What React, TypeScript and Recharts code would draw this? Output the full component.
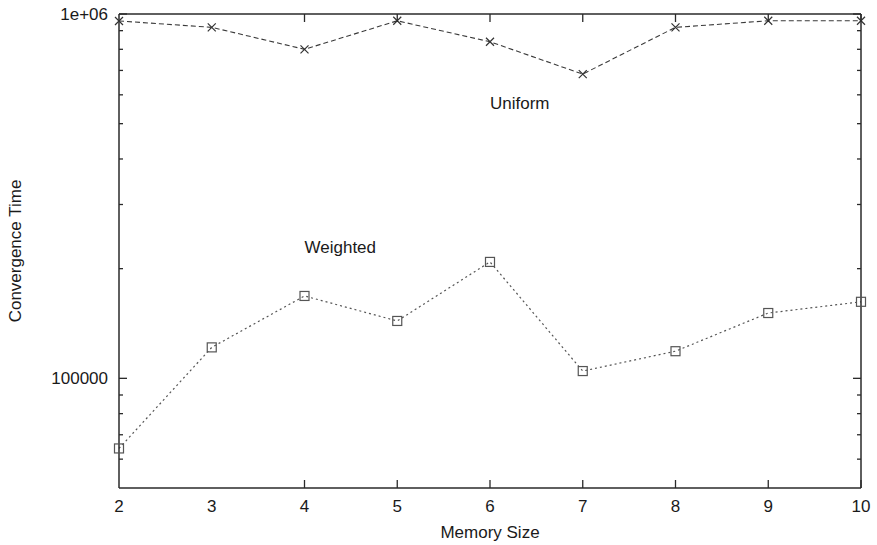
import { Line, LineChart, ReferenceDot, XAxis, YAxis } from 'recharts';

// memory size on x, convergence time (log scale) on y
const memorySizes = [2, 3, 4, 5, 6, 7, 8, 9, 10];
const uniformTimes = [957000, 919000, 800000, 958000, 839000, 684000, 919000, 958000, 958000];
const weightedTimes = [64200, 121600, 168300, 143700, 208700, 104700, 118700, 151100, 162200];

const xTicks = [2, 3, 4, 5, 6, 7, 8, 9, 10];
const yMajorTicks = [100000, 1000000];
const yMinorTicks = [60000, 70000, 80000, 90000, 200000, 300000, 400000, 500000, 600000, 700000, 800000, 900000];

const curveLabels = [
  { text: 'Uniform', m: 6, t: 570000 },
  { text: 'Weighted', m: 4, t: 230000 },
];

const data = memorySizes.map((m, i) => ({ m, uniform: uniformTimes[i], weighted: weightedTimes[i] }));

const FONT = "'Liberation Sans', Arial, Helvetica, sans-serif";
const INK = '#1a1a1a';
const AXIS = '#2a2a2a';
const Y_DOMAIN: [number, number] = [50000, 1000000];

// gnuplot-style exponent labels: 1e+06
const fmtTime = (v: number) => (v >= 1000000 ? v.toExponential(0).replace(/e\+(\d)$/, 'e+0$1') : String(v));

const isMajorY = (v: number) => yMajorTicks.includes(v);

// inward tick marks drawn from the axis edge; dx/dy give the inward direction
const inwardTick = (dx: number, dy: number, lenOf: (v: number) => number) => (props: any) => {
  const len = lenOf(props.payload.value);
  return (
    <line
      x1={props.x}
      y1={props.y}
      x2={props.x + dx * len}
      y2={props.y + dy * len}
      stroke={AXIS}
      strokeWidth={1.3}
    />
  );
};

const yTickLen = (v: number) => (isMajorY(v) ? 8 : 4);
const xTickLen = () => 8;

const cross = (props: any) => {
  const { cx, cy, index } = props;
  const s = 4;
  return (
    <path
      key={`u-${index}`}
      d={`M${cx - s},${cy - s}L${cx + s},${cy + s}M${cx - s},${cy + s}L${cx + s},${cy - s}`}
      stroke="#333"
      strokeWidth={1.2}
      fill="none"
    />
  );
};

const square = (props: any) => {
  const { cx, cy, index } = props;
  const s = 4.5;
  return <rect key={`w-${index}`} x={cx - s} y={cy - s} width={2 * s} height={2 * s} stroke="#555" strokeWidth={1.2} fill="none" />;
};

const yTitle = (props: any) => {
  const { x, y, height } = props.viewBox;
  const cx = x + 15;
  const cy = y + height / 2;
  return (
    <text x={cx} y={cy} transform={`rotate(-90 ${cx} ${cy})`} textAnchor="middle" dominantBaseline="central" fill={INK} fontSize={17} fontFamily={FONT}>
      Convergence Time
    </text>
  );
};

const xTitle = (props: any) => {
  const { x, y, width } = props.viewBox;
  return (
    <text x={x + width / 2} y={y + 50} textAnchor="middle" fill={INK} fontSize={17} fontFamily={FONT}>
      Memory Size
    </text>
  );
};

const tickText = { fill: INK, fontSize: 17, fontFamily: FONT };

export default function App() {
  return (
    <div style={{ position: 'absolute', left: 0, top: 0, background: '#fff' }}>
      <LineChart width={877} height={545} data={data} margin={{ top: 14, right: 16, bottom: 0, left: 0 }}>
        <XAxis
          xAxisId="main"
          dataKey="m"
          type="number"
          domain={[2, 10]}
          ticks={xTicks}
          interval={0}
          height={57}
          tickLine={false}
          tickSize={0}
          tickMargin={12}
          axisLine={{ stroke: AXIS, strokeWidth: 1.5 }}
          tick={tickText}
          label={{ content: xTitle }}
        />
        <XAxis
          xAxisId="bottomTicks"
          type="number"
          domain={[2, 10]}
          allowDataOverflow
          ticks={xTicks}
          interval={0}
          mirror
          height={10}
          tickLine={false}
          tickSize={0}
          tickMargin={0}
          axisLine={false}
          tick={inwardTick(0, -1, xTickLen)}
        />
        <XAxis
          xAxisId="topTicks"
          orientation="top"
          type="number"
          domain={[2, 10]}
          allowDataOverflow
          ticks={xTicks}
          interval={0}
          mirror
          height={10}
          tickLine={false}
          tickSize={0}
          tickMargin={0}
          axisLine={{ stroke: AXIS, strokeWidth: 1.5 }}
          tick={inwardTick(0, 1, xTickLen)}
        />
        <YAxis
          yAxisId="main"
          type="number"
          scale="log"
          domain={Y_DOMAIN}
          ticks={yMajorTicks}
          interval={0}
          width={119}
          tickLine={false}
          tickSize={0}
          tickMargin={11}
          tickFormatter={fmtTime}
          axisLine={{ stroke: AXIS, strokeWidth: 1.5 }}
          tick={tickText}
          label={{ content: yTitle }}
        />
        <YAxis
          yAxisId="leftTicks"
          type="number"
          scale="log"
          domain={Y_DOMAIN}
          allowDataOverflow
          ticks={[...yMinorTicks, ...yMajorTicks]}
          interval={0}
          mirror
          width={10}
          tickLine={false}
          tickSize={0}
          tickMargin={0}
          axisLine={false}
          tick={inwardTick(1, 0, yTickLen)}
        />
        <YAxis
          yAxisId="rightTicks"
          orientation="right"
          type="number"
          scale="log"
          domain={Y_DOMAIN}
          allowDataOverflow
          ticks={[...yMinorTicks, ...yMajorTicks]}
          interval={0}
          mirror
          width={10}
          tickLine={false}
          tickSize={0}
          tickMargin={0}
          axisLine={{ stroke: AXIS, strokeWidth: 1.5 }}
          tick={inwardTick(-1, 0, yTickLen)}
        />
        <Line
          xAxisId="main"
          yAxisId="main"
          dataKey="uniform"
          type="linear"
          stroke="#3a3a3a"
          strokeWidth={1.1}
          strokeDasharray="5 3"
          dot={cross}
          activeDot={false}
          isAnimationActive={false}
        />
        <Line
          xAxisId="main"
          yAxisId="main"
          dataKey="weighted"
          type="linear"
          stroke="#555"
          strokeWidth={1.2}
          strokeDasharray="2 3"
          dot={square}
          activeDot={false}
          isAnimationActive={false}
        />
        {curveLabels.map((l) => (
          <ReferenceDot
            key={l.text}
            xAxisId="main"
            yAxisId="main"
            x={l.m}
            y={l.t}
            r={0}
            shape={(p: any) => (
              <text x={p.cx} y={p.cy} dy="0.355em" fill={INK} fontSize={17} fontFamily={FONT}>
                {l.text}
              </text>
            )}
          />
        ))}
      </LineChart>
    </div>
  );
}
